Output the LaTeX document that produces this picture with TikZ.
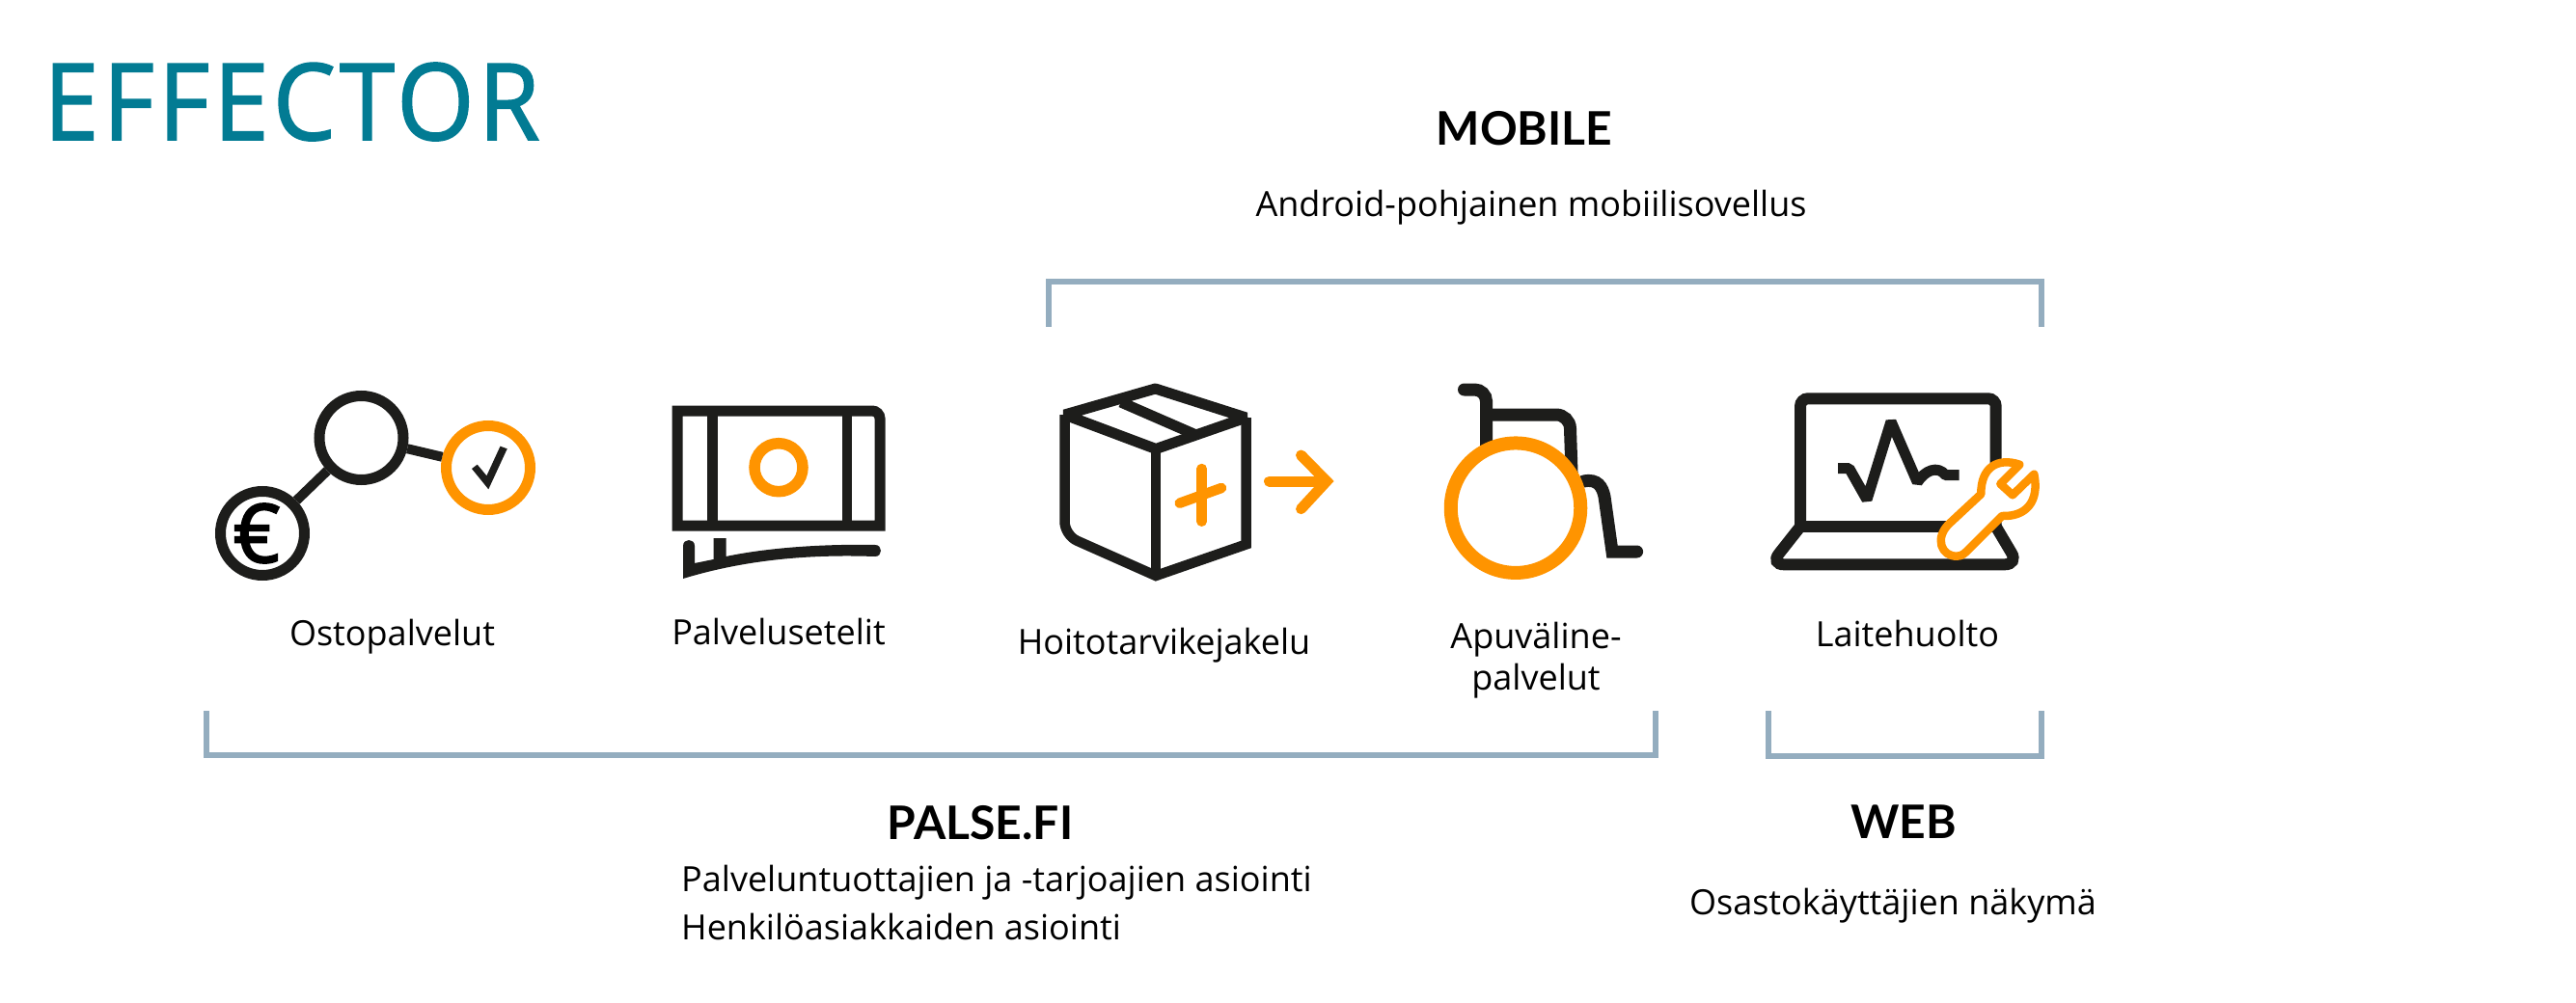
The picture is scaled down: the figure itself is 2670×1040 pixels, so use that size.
\documentclass[tikz,border=0pt]{standalone}
\usepackage{fontspec}
\usepackage{xcolor}
\setmainfont{Open Sans}
\newfontfamily\headfont{Lato}
\newfontfamily\logofont[FakeBold=1.5, LetterSpace=4]{Open Sans}
\newfontfamily\euroface[FakeBold=2.5]{Open Sans}
\definecolor{logo-color}{RGB}{2, 123, 147}
\definecolor{icon-color}{RGB}{29, 29, 27}
\definecolor{accent-color}{RGB}{255, 148, 0}
\definecolor{bracket-color}{RGB}{148, 173, 191}

\begin{document}
\begin{tikzpicture}[x=1pt, y=-1pt,
  label/.style={anchor=base, inner sep=0pt, text=black, font=\fontsize{36}{43}\selectfont, align=center},
  note/.style={label, anchor=base west, align=left},
  heading/.style={anchor=base, inner sep=0pt, text=black, font=\headfont\bfseries\fontsize{48}{56}\selectfont},
  bracket/.style={draw=bracket-color, line width=6pt},
  iconline/.style={draw=icon-color, line width=10pt},
  accentline/.style={draw=accent-color, line width=11pt, line cap=round},
  ring/.style={circle, draw=icon-color, line width=11pt, inner sep=0pt, minimum size=87pt}]
\useasboundingbox (0,0) rectangle (2670,1040);

\node (logo) [anchor=base west, inner sep=0pt, text=logo-color] at (45,145) {\resizebox{514pt}{80pt}{\logofont EFFECTOR}};

\node (mobile) [heading] at (1580,151) {MOBILE};
\node (mobiletext) [label] at (1587,225) {Android-pohjainen mobiilisovellus};
\coordinate (mobileA) at (1087,339);
\coordinate (mobileB) at (1087,292);
\coordinate (mobileC) at (2115.5,292);
\coordinate (mobileD) at (2115.5,339);
\draw[bracket] (mobileA) -- (mobileB) -- (mobileC) -- (mobileD);

\node (big) [ring] at (374.5,454) {};
\node (euro) [ring, font=\euroface\fontsize{84}{84}\selectfont] at (272,553) {\hspace*{-12pt}€};
\node (check) [ring, draw=accent-color] at (506,485) {};
\draw[iconline] (big) -- (euro);
\draw[iconline] (big) -- (check);
\fill[icon-color] (489,486) -- (494.7,481.7) -- (504.4,493.3) -- (518.5,462.7) -- (525.7,465.3) -- (506.3,507.3) -- cycle;

\draw[iconline, line width=11pt] (702,426) [rounded corners=8pt] -- (912,426) [sharp corners] -- (912,545) -- (702,545) -- cycle;
\draw[iconline, line width=10.5pt] (738.5,426) -- (738.5,545);
\draw[iconline, line width=10.5pt] (878,426) -- (878,545);
\node (note) [circle, draw=accent-color, line width=11.5pt, inner sep=0pt, minimum size=50pt] at (807,484.7) {};
\fill[icon-color] (708,600) -- (708,566) .. controls (708,558) and (720,558) .. (720,566) -- (720,584) -- (739.5,580) -- (739.5,558) -- (752.5,558) -- (752.5,577) .. controls (800,567) and (860,564) .. (907,565) .. controls (915,565) and (915,577) .. (907,577) .. controls (850,575) and (780,578) .. cycle;

\draw[iconline, line width=11pt, line join=bevel] (1103.5,430) -- (1197.5,403) -- (1291.5,433) -- (1198,465.5) -- cycle;
\draw[iconline, line width=10.5pt] (1198,465.5) -- (1198,597);
\draw[iconline, line width=10.5pt] (1103.5,430) [rounded corners=14pt] -- (1103.5,555) [sharp corners] -- (1198,597) -- (1291.5,564.5) -- (1291.5,433);
\draw[iconline, line width=11pt] (1161.7,417) -- (1242,452);
\draw[accentline, line width=10.5pt] (1245.7,486) -- (1245.7,540.7);
\draw[accentline, line width=10.5pt] (1222.7,521.7) -- (1266,506);
\draw[accentline] (1315.5,499) -- (1372,499);
\draw[accentline, line join=miter] (1348.5,472) -- (1375,499) -- (1348.5,527.7);

\draw[iconline, line width=13pt, line cap=round, rounded corners=12pt] (1517.5,404) -- (1540.5,404) -- (1540.5,470);
\draw[iconline, line width=13pt, rounded corners=14pt] (1540.5,430) -- (1627,430) -- (1629,490);
\draw[iconline, line width=13pt, line cap=round] (1641.5,499) .. controls (1656,496) and (1661,505) .. (1663,515) -- (1671,572) -- (1696.6,572);
\node (wheel) [circle, draw=accent-color, fill=white, line width=14pt, inner sep=0pt, minimum size=134.5pt] at (1571,526.7) {};

\draw[iconline, line width=12pt, rounded corners=8pt] (1866,546) -- (1866,413.3) -- (2068.7,413.3) -- (2068.7,546);
\draw[iconline, line width=12pt] (1866,546) -- (2068.7,546);
\draw[iconline, line width=12pt, rounded corners=14pt] (1866,546) -- (1835,585.3) -- (2092,585.3) -- (2068.7,546);
\draw[iconline, line width=11pt, line join=bevel] (1905,485.7) -- (1916.7,485.7) -- (1935,518) -- (1960,437) -- (1987.3,500) .. controls (1995,488) and (2008,482) .. (2016.7,492.7) -- (2030.7,492.7);
\draw[draw=accent-color, fill=white, line width=8.5pt, line join=round] (2093.3,481.7) .. controls (2070,474) and (2053,485) .. (2053.3,512.3) -- (2020,543.3) .. controls (2005,558) and (2012,577) .. (2028.3,576.7) .. controls (2034,576.7) and (2037,573) .. (2040,570) -- (2075,535) .. controls (2100,536) and (2114,520) .. (2108.3,491.7) -- (2086,513.3) -- (2073.3,501.7) -- cycle;

\node (buy) [label] at (406.5,669) {Ostopalvelut};
\node (voucher) [label] at (807,668) {Palvelusetelit};
\node (supply) [label] at (1206.5,678) {Hoitotarvikejakelu};
\node (aid) [label] at (1592,715) {Apuväline-\\palvelut};
\node (repair) [label] at (1977,670) {Laitehuolto};

\coordinate (palseA) at (214,737);
\coordinate (palseB) at (214,782.5);
\coordinate (palseC) at (1716,782.5);
\coordinate (palseD) at (1716,737);
\draw[bracket] (palseA) -- (palseB) -- (palseC) -- (palseD);
\coordinate (webA) at (1832.5,737);
\coordinate (webB) at (1832.5,783.5);
\coordinate (webC) at (2116,783.5);
\coordinate (webD) at (2116,737);
\draw[bracket] (webA) -- (webB) -- (webC) -- (webD);

\node (palse) [heading] at (1016,870) {PALSE.FI};
\node (palsetext) [note] at (706,924) {Palveluntuottajien ja -tarjoajien asiointi};
\node (palsetextb) [note] at (706,974) {Henkilöasiakkaiden asiointi};
\node (web) [heading] at (1973,869) {WEB};
\node (webtext) [label] at (1962,948) {Osastokäyttäjien näkymä};
\end{tikzpicture}
\end{document}
